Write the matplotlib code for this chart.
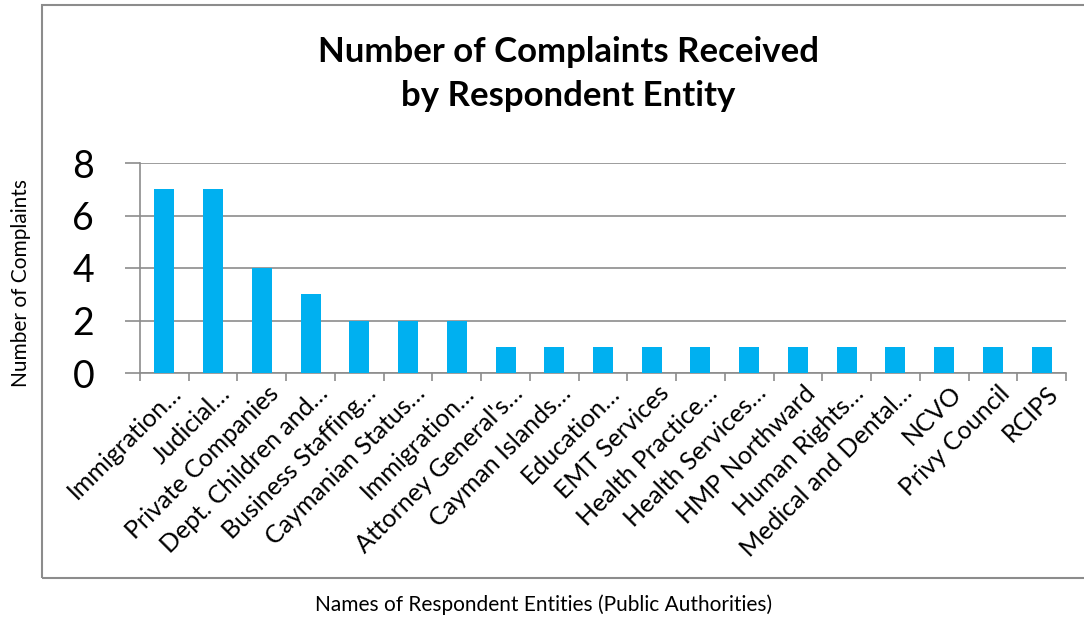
import matplotlib
matplotlib.use("Agg")
import matplotlib.pyplot as plt
from matplotlib.patches import Rectangle
import matplotlib.transforms as mtransforms

categories = ["Immigration…", "Judicial…", "Private Companies", "Dept. Children and…",
              "Business Staffing…", "Caymanian Status…", "Immigration…", "Attorney General's…",
              "Cayman Islands…", "Education…", "EMT Services", "Health Practice…",
              "Health Services…", "HMP Northward", "Human Rights…", "Medical and Dental…",
              "NCVO", "Privy Council", "RCIPS"]
values = [7, 7, 4, 3, 2, 2, 2, 1, 1, 1, 1, 1, 1, 1, 1, 1, 1, 1, 1]
yticks = [0, 2, 4, 6, 8]

plt.rcParams['font.family'] = ['Lato', 'DejaVu Sans']

W, H = 1084, 620
fig = plt.figure(figsize=(W/100, H/100), dpi=100)
fig.patch.set_facecolor('white')

# chart border
fig.patches.append(Rectangle((42/W, 1-578/H), 1.2, 573/H, transform=fig.transFigure,
                             fill=False, edgecolor='#8c8c8c', linewidth=1.5))

ax = fig.add_axes([140/W, 1-373/H, (1066-140)/W, (373-163)/H])
x = list(range(len(categories)))
ax.bar(x, values, width=0.41, color='#00B0F0', zorder=3)
ax.set_xlim(-0.5, len(categories)-0.5)
ax.set_ylim(0, 8)
ax.set_yticks(yticks)
ax.set_yticklabels([str(v) for v in yticks], fontsize=27)
ax.yaxis.grid(True, color='#8c8c8c', linewidth=1.2, zorder=0)
for s in ['top', 'right']:
    ax.spines[s].set_visible(False)
for s in ['left', 'bottom']:
    ax.spines[s].set_color('#8c8c8c')
    ax.spines[s].set_linewidth(1.2)
ax.tick_params(axis='y', length=11, width=1.2, color='#8c8c8c', pad=22)
# x ticks at category boundaries
ax.set_xticks([i - 0.5 for i in range(len(categories)+1)])
ax.set_xticklabels([])
ax.tick_params(axis='x', length=5.5, width=1.2, color='#8c8c8c')
ax.set_xticks(x, minor=True)
ax.set_xticklabels(categories, minor=True, rotation=45, ha='right', va='top',
                   rotation_mode='anchor', fontsize=18)
ax.tick_params(axis='x', which='minor', length=0, pad=6)
offset = mtransforms.ScaledTranslation(5/100, 0, fig.dpi_scale_trans)
for lbl in ax.get_xticklabels(minor=True):
    lbl.set_transform(lbl.get_transform() + offset)

fig.text(0.524, 1-74/H, "Number of Complaints Received\nby Respondent Entity",
         ha='center', va='center', fontsize=25, fontweight='bold', linespacing=1.5)
fig.text(21/W, 1-283/H, "Number of Complaints", rotation=90, ha='center', va='center',
         fontsize=15)
fig.text(543.5/W, 1-605/H, "Names of Respondent Entities (Public Authorities)",
         ha='center', va='center', fontsize=15)

fig.savefig("out.png", dpi=100, facecolor='white')
